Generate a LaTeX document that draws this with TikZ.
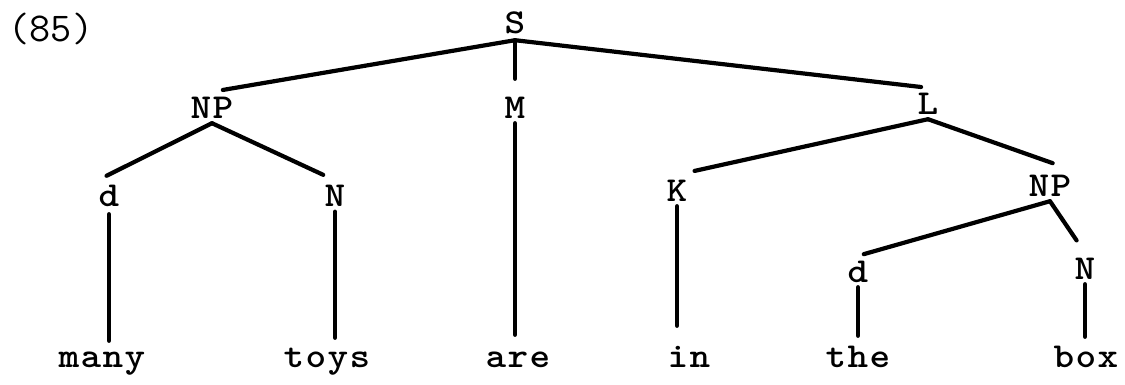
\documentclass[tikz,border=0pt]{standalone}
\usepackage{fontspec}
\newfontfamily\tw{lmmonolt10-bold.otf}[FakeStretch=1.12, LetterSpace=4]
\newfontfamily\numfont{Latin Modern Mono}
\begin{document}
\begin{tikzpicture}[x=1pt,y=-1pt,
  lab/.style={font=\tw\fontsize{35}{38}\selectfont, inner xsep=0pt, inner ysep=5pt, text height=21pt, text depth=0pt},
  branch/.style={line width=4.2pt, line cap=round}]
\useasboundingbox (0,0) rectangle (1125,384);
\node[font=\numfont\fontsize{41}{44}\selectfont, inner sep=0pt, anchor=base] (num) at (51,41) {(85)};
\node[lab, inner ysep=7pt] (S) at (515,22.5) {S};
\node[lab] (NPa) at (212,107.5) {NP};
\node[lab] (M) at (515,107.5) {M};
\node[lab] (L) at (928,103.5) {L};
\node[lab] (da) at (109,195.5) {d};
\node[lab] (Na) at (335,196) {N};
\node[lab] (K) at (677,190.5) {K};
\node[lab] (NPb) at (1050,185.5) {NP};
\node[lab] (db) at (858,271.5) {d};
\node[lab] (Nb) at (1085,268.5) {N};
\node[lab] (w1) at (102,356.5) {many};
\node[lab] (w2) at (327,356.5) {toys};
\node[lab] (w3) at (518,356.5) {are};
\node[lab] (w4) at (689,356.5) {in};
\node[lab] (w5) at (858,356.5) {the};
\node[lab] (w6) at (1086,356.5) {box};
% S
\draw[branch, shorten >=11pt] (S.south) -- (NPa.north);
\draw[branch, shorten >=13pt] (S.south) -- (M.north);
\draw[branch, shorten >=7pt] (S.south) -- (L.north);
% NP (left)
\draw[branch, shorten >=9pt] (NPa.south) -- (da.north west);
\draw[branch, shorten >=13pt] (NPa.south) -- (Na.north);
% L
\draw[branch, shorten >=18pt] (L.south) -- (K.north);
\draw[branch, shorten >=20pt] (L.south) -- (NPb.north east);
% NP (right)
\draw[branch, shorten >=6pt] (NPb.south) -- (db.north);
\draw[branch, shorten >=15pt] (NPb.south) -- (Nb.north);
% terminals
\draw[branch, shorten >=6pt] (M.south) -- (M.south |- w3.north);
\draw[branch, shorten <=3pt] (da.south) -- (da.south |- w1.north);
\draw[branch, shorten >=3pt] (Na.south) -- (Na.south |- w2.north);
\draw[branch, shorten >=15pt] (K.south) -- (K.south |- w4.north);
\draw[branch, shorten >=5pt] (db.south) -- (db.south |- w5.north);
\draw[branch, shorten >=4pt] (Nb.south) -- (Nb.south |- w6.north);
\end{tikzpicture}
\end{document}
